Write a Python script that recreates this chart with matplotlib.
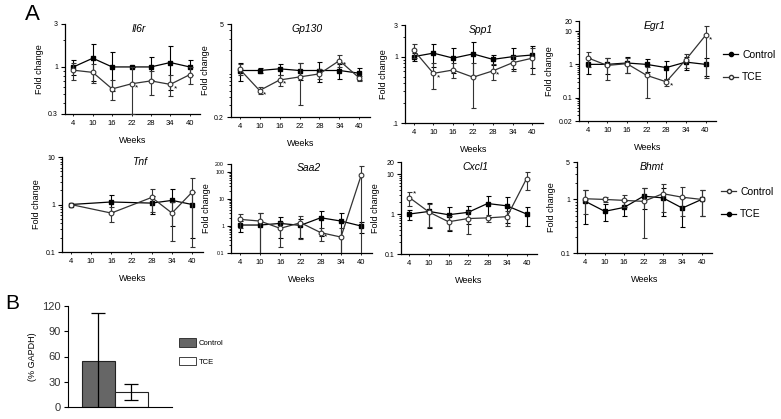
import matplotlib
matplotlib.use('Agg')
import matplotlib.pyplot as plt
from matplotlib.ticker import LogLocator, NullFormatter, FixedLocator, FixedFormatter
from matplotlib.lines import Line2D
from matplotlib.patches import Patch

plt.rcParams['font.family'] = ['Liberation Sans', 'DejaVu Sans']

weeks = [4, 10, 16, 22, 28, 34, 40]
tnf_weeks = [4, 16, 28, 34, 40]

# ---- Row 1 (filled = Control, open = TCE) ----
il6r_ctrl = [1.0, 1.25, 1.0, 1.0, 1.0, 1.12, 1.0]
il6r_ctrl_sd = [0.18, 0.55, 0.46, 0.0, 0.29, 0.57, 0.18]
il6r_tce = [0.92, 0.87, 0.57, 0.65, 0.70, 0.64, 0.82]
il6r_tce_sd = [0.2, 0.21, 0.14, 0.35, 0.21, 0.17, 0.17]
il6r_stars = [22, 34]

gp130_ctrl = [1.0, 1.0, 1.06, 1.0, 1.0, 1.0, 0.91]
gp130_ctrl_sd = [0.3, 0.08, 0.2, 0.28, 0.32, 0.26, 0.18]
gp130_tce = [1.05, 0.50, 0.72, 0.80, 0.89, 1.41, 0.77]
gp130_tce_sd = [0.2, 0.06, 0.14, 0.5, 0.15, 0.3, 0.07]
gp130_stars = [10, 16, 34]

spp1_ctrl = [1.0, 1.13, 0.95, 1.10, 0.91, 1.0, 1.06]
spp1_ctrl_sd = [0.15, 0.42, 0.39, 0.59, 0.15, 0.34, 0.39]
spp1_tce = [1.26, 0.56, 0.63, 0.49, 0.61, 0.81, 0.95]
spp1_tce_sd = [0.29, 0.24, 0.16, 0.32, 0.17, 0.21, 0.4]
spp1_stars = [10, 28]

egr1_ctrl = [1.0, 1.0, 1.1, 1.0, 0.8, 1.17, 1.0]
egr1_ctrl_sd = [0.5, 0.5, 0.55, 0.4, 0.43, 0.5, 0.56]
egr1_tce = [1.58, 0.93, 1.05, 0.47, 0.30, 1.38, 7.4]
egr1_tce_sd = [0.75, 0.6, 0.5, 0.37, 0.07, 0.6, 7.0]
egr1_stars = [28, 40]

# ---- Row 2 (open = Control, filled = TCE) ----
tnf_ctrl = [1.0, 0.66, 1.41, 0.66, 1.83]
tnf_ctrl_sd = [0.0, 0.23, 0.7, 0.49, 1.7]
tnf_tce = [1.0, 1.13, 1.07, 1.22, 1.0]
tnf_tce_sd = [0.0, 0.45, 0.43, 0.87, 0.8]
tnf_stars = []

saa2_ctrl = [1.77, 1.53, 0.82, 1.33, 0.57, 0.39, 77]
saa2_ctrl_sd = [0.95, 1.6, 0.65, 1.0, 0.3, 0.45, 89]
saa2_tce = [1.09, 1.09, 1.25, 1.06, 2.03, 1.53, 1.0]
saa2_tce_sd = [0.5, 2.0, 0.9, 0.7, 1.6, 1.6, 0.45]
saa2_stars = [28]

cxcl1_ctrl = [2.57, 1.12, 0.64, 0.77, 0.80, 0.86, 7.7]
cxcl1_ctrl_sd = [1.0, 0.65, 0.25, 0.45, 0.16, 0.36, 3.6]
cxcl1_tce = [1.0, 1.16, 0.96, 1.1, 1.83, 1.6, 1.0]
cxcl1_tce_sd = [0.28, 0.7, 0.58, 0.53, 1.05, 1.0, 0.5]
cxcl1_stars = [4]

bhmt_ctrl = [1.03, 1.0, 0.96, 0.92, 1.28, 1.1, 1.0]
bhmt_ctrl_sd = [0.5, 0.1, 0.25, 0.73, 0.7, 0.6, 0.5]
bhmt_tce = [0.92, 0.6, 0.71, 1.15, 1.07, 0.69, 1.0]
bhmt_tce_sd = [0.57, 0.21, 0.21, 0.48, 0.57, 0.38, 0.5]
bhmt_stars = []

# ---- Panel B ----
b_groups = ['Control', 'TCE']
b_mean = [55, 18]
b_sd = [57, 9.5]
b_yticks = [0, 30, 60, 90, 120]

W, H = 781, 419
fig = plt.figure(figsize=(W / 100, H / 100), dpi=100)


def px_axes(l, t, r, b):
    return fig.add_axes([l / W, 1 - b / H, (r - l) / W, (b - t) / H])


def draw(ax, x, fil, fil_sd, opn, opn_sd, title, ylim, yticks, ylabels, stars,
         ytick_fs=5, star_dy=-3):
    ax.set_yscale('log')
    ax.errorbar(x, fil, yerr=fil_sd, color='black', lw=0.9, elinewidth=0.8,
                capsize=1.8, capthick=0.8, marker='s', ms=3.2, mfc='black',
                mec='black', zorder=3)
    ax.errorbar(x, opn, yerr=opn_sd, color='#333333', lw=0.9, elinewidth=0.8,
                capsize=1.8, capthick=0.8, marker='o', ms=3.4, mfc='white',
                mec='#333333', mew=0.8, zorder=4)
    for s in stars:
        i = list(x).index(s)
        ax.annotate('*', (s, opn[i]), xytext=(2.5, star_dy),
                    textcoords='offset points', fontsize=6, ha='left', va='center')
    ax.set_ylim(*ylim)
    ax.set_xlim(1.4, 43.2)
    ax.set_xticks(weeks)
    ax.set_xticklabels([str(w) for w in weeks], fontsize=5.5)
    ax.yaxis.set_major_locator(FixedLocator(yticks))
    ax.yaxis.set_major_formatter(FixedFormatter(ylabels))
    ax.yaxis.set_minor_locator(LogLocator(base=10, subs=(2, 3, 4, 5, 6, 7, 8, 9)))
    ax.yaxis.set_minor_formatter(NullFormatter())
    for lbl in ax.get_yticklabels():
        lbl.set_fontsize(ytick_fs)
    ax.spines['top'].set_visible(False)
    ax.spines['right'].set_visible(False)
    for sp in ('left', 'bottom'):
        ax.spines[sp].set_linewidth(0.9)
    ax.tick_params(axis='y', which='major', length=3, width=0.8, pad=2)
    ax.tick_params(axis='y', which='minor', length=1.8, width=0.6)
    ax.tick_params(axis='x', length=1.5, width=0.6, pad=3)
    ax.set_xlabel('Weeks', fontsize=6.5, labelpad=6)
    ax.set_ylabel('Fold change', fontsize=6.5, labelpad=3)
    ax.text(0.55, 0.95, title, transform=ax.transAxes, ha='center', va='center',
            style='italic', fontsize=7.5)


# Row 1
ax = px_axes(65, 24, 200, 114)
draw(ax, weeks, il6r_ctrl, il6r_ctrl_sd, il6r_tce, il6r_tce_sd, 'Il6r',
     (0.3, 3), [0.3, 1, 3], ['0.3', '1', '3'], il6r_stars)
ax = px_axes(231, 24, 370, 117)
draw(ax, weeks, gp130_ctrl, gp130_ctrl_sd, gp130_tce, gp130_tce_sd, 'Gp130',
     (0.2, 5), [0.2, 5], ['0.2', '5'], gp130_stars)
ax = px_axes(405, 25, 543, 123)
draw(ax, weeks, spp1_ctrl, spp1_ctrl_sd, spp1_tce, spp1_tce_sd, 'Spp1',
     (0.1, 3), [0.1, 1, 3], ['.1', '1', '3'], spp1_stars)
ax = px_axes(579, 21, 716, 121)
draw(ax, weeks, egr1_ctrl, egr1_ctrl_sd, egr1_tce, egr1_tce_sd, 'Egr1',
     (0.02, 20), [0.02, 0.1, 1, 10, 20], ['0.02', '0.1', '1', '10', '20'], egr1_stars)

# Row 2
ax = px_axes(62, 157, 203, 252)
draw(ax, tnf_weeks, tnf_tce, tnf_tce_sd, tnf_ctrl, tnf_ctrl_sd, 'Tnf',
     (0.1, 10), [0.1, 1, 10], ['0.1', '1', '10'], tnf_stars)
ax = px_axes(231, 164, 372, 253)
draw(ax, weeks, saa2_tce, saa2_tce_sd, saa2_ctrl, saa2_ctrl_sd, 'Saa2',
     (0.1, 200), [0.1, 1, 10, 100, 200], ['0.1', '1', '10', '100', '200'], saa2_stars,
     ytick_fs=3.8)
ax = px_axes(401, 162, 537, 254)
draw(ax, weeks, cxcl1_tce, cxcl1_tce_sd, cxcl1_ctrl, cxcl1_ctrl_sd, 'Cxcl1',
     (0.1, 20), [0.1, 1, 10, 20], ['0.1', '1', '10', '20'], cxcl1_stars, star_dy=3)
ax = px_axes(577, 162, 712, 253)
draw(ax, weeks, bhmt_tce, bhmt_tce_sd, bhmt_ctrl, bhmt_ctrl_sd, 'Bhmt',
     (0.1, 5), [0.1, 1, 5], ['0.1', '1', '5'], bhmt_stars)

# Legends panel A
h_fil = Line2D([], [], color='black', lw=0.9, marker='o', ms=3, mfc='black')
h_opn = Line2D([], [], color='#333333', lw=0.9, marker='o', ms=3, mfc='white')
fig.legend([h_fil, h_opn], ['Control', 'TCE'], loc='center left',
           bbox_to_anchor=(714 / W, 1 - 66 / H), frameon=False, fontsize=7.5,
           handlelength=1.4, labelspacing=1.2, handletextpad=0.4)
fig.legend([h_opn, h_fil], ['Control', 'TCE'], loc='center left',
           bbox_to_anchor=(712 / W, 1 - 203 / H), frameon=False, fontsize=7.5,
           handlelength=1.4, labelspacing=1.2, handletextpad=0.4)

# Panel B
axb = px_axes(68, 306, 172, 407)
bx = [0, 1]
axb.bar(bx, b_mean, width=1.0, color=['#666666', 'white'], edgecolor='#222222',
        linewidth=0.8, zorder=2)
axb.errorbar(bx, b_mean, yerr=b_sd, fmt='none', ecolor='black', elinewidth=0.9,
             capsize=5, capthick=0.9, zorder=3)
axb.set_xlim(-0.92, 2.23)
axb.set_ylim(0, 120)
axb.set_yticks(b_yticks)
axb.set_yticklabels([str(v) for v in b_yticks], fontsize=8, color='#333333')
axb.set_xticks([])
axb.spines['top'].set_visible(False)
axb.spines['right'].set_visible(False)
axb.tick_params(axis='y', length=3, width=0.8, pad=2)
axb.set_ylabel('(% GAPDH)', fontsize=6.5, labelpad=4)
fig.legend([Patch(facecolor='#666666', edgecolor='#222222', lw=0.6),
            Patch(facecolor='white', edgecolor='#222222', lw=0.6)],
           b_groups, loc='center left', bbox_to_anchor=(172 / W, 1 - 352 / H),
           frameon=False, fontsize=5.5, handlelength=2.2, handleheight=1.4,
           labelspacing=1.2, handletextpad=0.4)

fig.text(25 / W, 1 - 15 / H, 'A', fontsize=16, ha='left', va='center')
fig.text(5 / W, 1 - 303 / H, 'B', fontsize=15, ha='left', va='center')

fig.savefig('out.png', dpi=100)
